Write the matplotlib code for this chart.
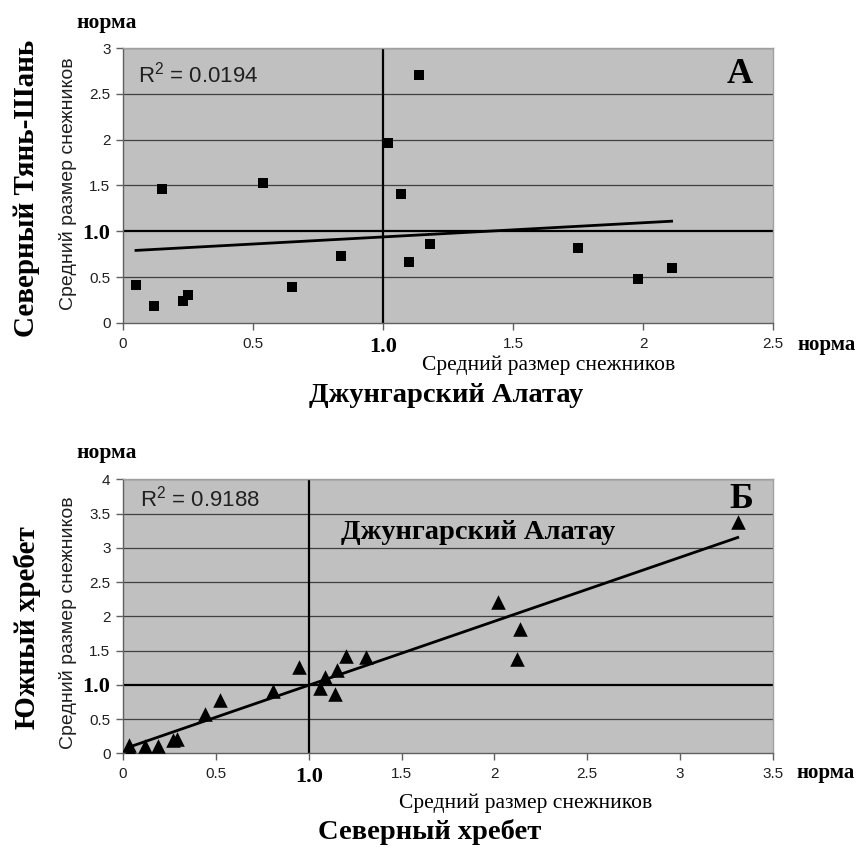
import numpy as np
import matplotlib
matplotlib.use("Agg")
import matplotlib.pyplot as plt

plt.rcParams["mathtext.fontset"] = "custom"
plt.rcParams["mathtext.rm"] = "Liberation Sans"
plt.rcParams["mathtext.it"] = "Liberation Sans"
plt.rcParams["mathtext.default"] = "rm"

# ---- Data: panel A (Джунгарский Алатау vs Северный Тянь-Шань) ----
a_x = [0.05, 0.12, 0.15, 0.23, 0.25, 0.54, 0.65, 0.84, 1.02, 1.07, 1.10, 1.14, 1.18, 1.75, 1.98, 2.11]
a_y = [0.41, 0.18, 1.46, 0.24, 0.30, 1.53, 0.39, 0.73, 1.96, 1.41, 0.67, 2.70, 0.86, 0.82, 0.48, 0.60]
a_r2 = "0.0194"

# ---- Data: panel Б (Северный хребет vs Южный хребет) ----
b_x = [0.03, 0.04, 0.12, 0.19, 0.27, 0.29, 0.44, 0.52, 0.81, 0.95, 1.06, 1.09, 1.14, 1.15, 1.20, 1.31, 2.02, 2.12, 2.14, 3.31]
b_y = [0.12, 0.05, 0.11, 0.10, 0.19, 0.21, 0.57, 0.78, 0.91, 1.26, 0.96, 1.11, 0.87, 1.21, 1.42, 1.40, 2.21, 1.38, 1.82, 3.38]
b_r2 = "0.9188"

a_xticks = [0, 0.5, 1.0, 1.5, 2, 2.5]
a_xticklabels = ["0", "0.5", "1.0", "1.5", "2", "2.5"]
a_yticks = [0, 0.5, 1.0, 1.5, 2, 2.5, 3]
a_yticklabels = ["0", "0.5", "1.0", "1.5", "2", "2.5", "3"]
b_xticks = [0, 0.5, 1.0, 1.5, 2, 2.5, 3, 3.5]
b_xticklabels = ["0", "0.5", "1.0", "1.5", "2", "2.5", "3", "3.5"]
b_yticks = [0, 0.5, 1.0, 1.5, 2, 2.5, 3, 3.5, 4]
b_yticklabels = ["0", "0.5", "1.0", "1.5", "2", "2.5", "3", "3.5", "4"]

SANS = "Liberation Sans"
SERIF = "Liberation Serif"
BG = "#c0c0c0"

fig = plt.figure(figsize=(8.59, 8.47), dpi=100)

def px2fig(x, y):
    return x / 859, 1 - y / 847

def make_panel(rect, xs, ys, xticks, xtl, yticks, ytl, xmax, ymax, marker, msize,
               r2, r2pos, letter, letterpos):
    ax = fig.add_axes(rect)
    ax.set_facecolor(BG)
    ax.set_xlim(0, xmax)
    ax.set_ylim(0, ymax)
    for yv in yticks[1:]:
        if yv == 1.0:
            continue
        ax.axhline(yv, color="#404040", lw=0.9, zorder=1)
    ax.axhline(1.0, color="black", lw=1.6, zorder=2)
    ax.axvline(1.0, color="black", lw=1.6, zorder=2)
    # trend line
    k, b = np.polyfit(xs, ys, 1)
    xt = np.array([min(xs), max(xs)])
    ax.plot(xt, k * xt + b, color="black", lw=2.0, zorder=3)
    ax.scatter(xs, ys, marker=marker, s=msize, color="black", zorder=4, linewidths=0)
    ax.set_xticks(xticks)
    ax.set_yticks(yticks)
    ax.set_xticklabels(xtl)
    ax.set_yticklabels(ytl)
    for lab in ax.get_xticklabels() + ax.get_yticklabels():
        if lab.get_text() == "1.0":
            lab.set_fontfamily(SERIF)
            lab.set_fontweight("bold")
            lab.set_fontsize(16)
            lab.set_color("black")
        else:
            lab.set_fontfamily(SANS)
            lab.set_fontsize(11)
            lab.set_color("#202020")
    ax.tick_params(axis="both", direction="out", length=5, width=1, color="#606060")
    ax.tick_params(axis="x", pad=5)
    ax.tick_params(axis="y", pad=4)
    for s in ["left", "bottom"]:
        ax.spines[s].set_color("#606060")
        ax.spines[s].set_linewidth(1.0)
    for s in ["top", "right"]:
        ax.spines[s].set_color("#a0a0a0")
        ax.spines[s].set_linewidth(1.0)
    ax.text(r2pos[0], r2pos[1], "R$^2$ = " + r2, transform=ax.transAxes, fontsize=16,
            family=SANS, color="#202020", va="center", ha="left")
    ax.text(letterpos[0], letterpos[1], letter, transform=ax.transAxes, fontsize=26,
            family=SERIF, fontweight="bold", va="center", ha="right")
    return ax

# Panel A
l, b0 = px2fig(123, 323)
w = (773 - 123) / 859
h = (323 - 48) / 847
axA = make_panel([l, b0, w, h], a_x, a_y, a_xticks, a_xticklabels, a_yticks, a_yticklabels,
                 2.5, 3, "s", 60, a_r2, (0.023, 0.905), "А", (0.969, 0.905))

# Panel B
l2, b1 = px2fig(123, 753.3)
h2 = (753.3 - 479.3) / 847
axB = make_panel([l2, b1, w, h2], b_x, b_y, b_xticks, b_xticklabels, b_yticks, b_yticklabels,
                 3.5, 4, "^", 110, b_r2, (0.026, 0.928), "Б", (0.969, 0.928))
axB.text(0.546, 0.805, "Джунгарский Алатау", transform=axB.transAxes, fontsize=20.5,
         family=SERIF, fontweight="bold", va="center", ha="center")

def ftext(x, y, s, **kw):
    fx, fy = px2fig(x, y)
    fig.text(fx, fy, s, **kw)

# Panel A labels
ftext(107, 23, "норма", fontsize=15.5, family=SERIF, fontweight="bold", ha="center", va="center")
ftext(856, 345, "норма", fontsize=15, family=SERIF, fontweight="bold", ha="right", va="center")
ftext(68, 184, "Средний размер снежников", fontsize=14, family=SANS, rotation=90,
      ha="center", va="center", color="#202020")
ftext(27, 188, "Северный Тянь-Шань", fontsize=21, family=SERIF, fontweight="bold",
      rotation=90, ha="center", va="center")
ftext(549, 365, "Средний размер снежников", fontsize=15.5, family=SERIF, ha="center", va="center")
ftext(446, 395, "Джунгарский Алатау", fontsize=20.5, family=SERIF, fontweight="bold",
      ha="center", va="center")

# Panel B labels
ftext(107, 453, "норма", fontsize=15.5, family=SERIF, fontweight="bold", ha="center", va="center")
ftext(855, 773, "норма", fontsize=15, family=SERIF, fontweight="bold", ha="right", va="center")
ftext(68, 623, "Средний размер снежников", fontsize=14, family=SANS, rotation=90,
      ha="center", va="center", color="#202020")
ftext(27, 628, "Южный хребет", fontsize=21, family=SERIF, fontweight="bold",
      rotation=90, ha="center", va="center")
ftext(526, 803, "Средний размер снежников", fontsize=15.5, family=SERIF, ha="center", va="center")
ftext(430, 832, "Северный хребет", fontsize=20.5, family=SERIF, fontweight="bold",
      ha="center", va="center")

fig.savefig("out.png", dpi=100, facecolor="white")
